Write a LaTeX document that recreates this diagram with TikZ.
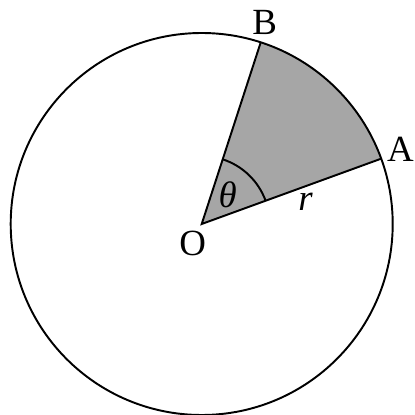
\documentclass[tikz,border=0pt]{standalone}
\usepackage{fontspec}
\setmainfont{Liberation Serif}
\definecolor{sectorgray}{HTML}{A6A6A6}
\usetikzlibrary{calc}
\tikzset{
  edge_line/.style={draw=black,line width=1.1pt},
  sector_fill/.style={fill=sectorgray},
  lbl/.style={font=\fontsize{21}{24}\selectfont,inner sep=0pt},
}
\begin{document}
\begin{tikzpicture}[x=0.02cm,y=0.02cm]
  \useasboundingbox (-201.7,-191) rectangle (213.3,224);

  \coordinate (O) at (0,0);
  \coordinate (A) at (20:191);
  \coordinate (B) at (72:191);

  \fill[sector_fill] (O) -- (A) arc[start angle=20,end angle=72,radius=191] -- cycle;
  \draw[edge_line] (O) circle[radius=191];
  \draw[edge_line] (A) -- (O) -- (B);
  \draw[edge_line] ($(O)+(20:68)$) arc[start angle=20,end angle=72,radius=68];

  \node[lbl] (lblB) at (63,202) {B};
  \node[lbl,anchor=east] (lblA) at (212.5,75) {A};
  \node[lbl] (lblO) at (-9,-19) {O};
  \node[lbl] (lblTheta) at (26,29) {\textit{θ}};
  \node[lbl] (lblR) at (104,22) {\textit{r}};
\end{tikzpicture}
\end{document}
